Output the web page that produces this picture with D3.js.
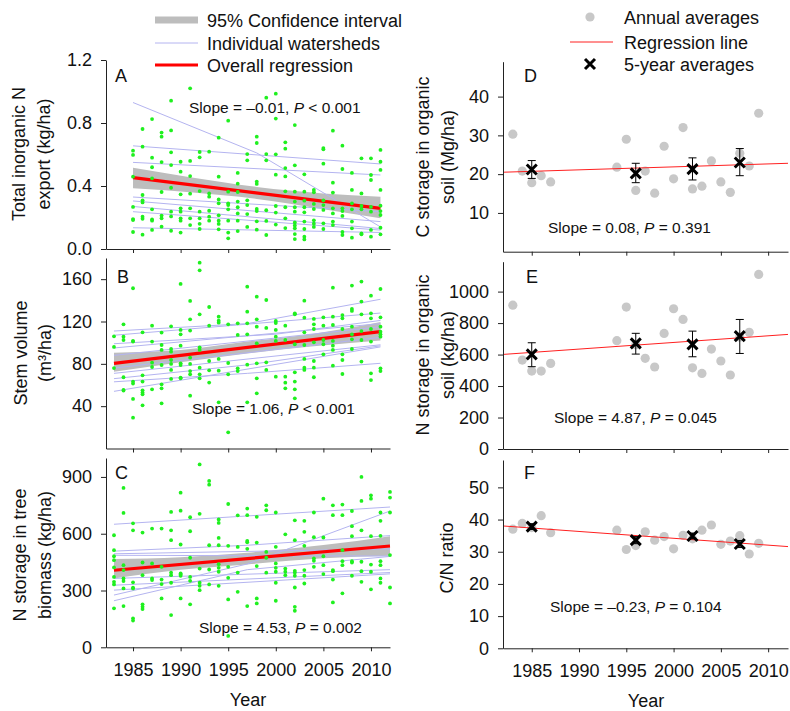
<!DOCTYPE html>
<html lang="en">
<head>
<meta charset="UTF-8">
<title>N export, tree biomass and organic soil trends</title>
<script src="https://d3js.org/d3.v7.min.js"></script>
<style>
  body { margin: 0; background: #fff; }
  svg { font-family: "Liberation Sans", Arial, sans-serif; }
  .axis path, .axis line { stroke: #222; }
  .axis text { font-size: 18px; fill: #111; font-family: "Liberation Sans", Arial, sans-serif; }
</style>
</head>
<body>
<svg id="chart" width="790" height="711"></svg>
<script>
// ---- left column: watershed-level data (green dots), per year ----
const ptsA = [
  [1985, [0.624, 0.597, 0.459, 0.267, 0.190, 0.184, 0.108]],
  [1986, [0.762, 0.650, 0.343, 0.309, 0.296, 0.205, 0.192, 0.091]],
  [1987, [0.825, 0.580, 0.519, 0.449, 0.252, 0.188, 0.180, 0.121]],
  [1988, [0.739, 0.713, 0.552, 0.362, 0.212, 0.195, 0.142]],
  [1989, [0.942, 0.753, 0.614, 0.533, 0.389, 0.237, 0.207, 0.116]],
  [1990, [0.554, 0.491, 0.347, 0.258, 0.237, 0.195, 0.180, 0.104]],
  [1991, [1.020, 0.559, 0.463, 0.351, 0.258, 0.195, 0.152]],
  [1992, [0.616, 0.582, 0.368, 0.237, 0.195, 0.160, 0.127]],
  [1993, [0.618, 0.353, 0.332, 0.243, 0.205, 0.180]],
  [1994, [0.707, 0.459, 0.315, 0.290, 0.214, 0.180, 0.159, 0.125]],
  [1995, [0.815, 0.364, 0.290, 0.279, 0.252, 0.180, 0.104, 0.068]],
  [1996, [0.483, 0.415, 0.362, 0.301, 0.265, 0.226, 0.180, 0.114]],
  [1997, [0.603, 0.563, 0.309, 0.279, 0.222, 0.140]],
  [1998, [0.713, 0.673, 0.428, 0.413, 0.254, 0.241, 0.176, 0.123]],
  [1999, [0.961, 0.603, 0.563, 0.246, 0.178, 0.089]],
  [2000, [0.986, 0.828, 0.601, 0.472, 0.273, 0.231, 0.155]],
  [2001, [0.677, 0.637, 0.514, 0.461, 0.366, 0.265, 0.195, 0.133]],
  [2002, [0.787, 0.531, 0.364, 0.301, 0.265, 0.237, 0.169, 0.150, 0.131, 0.095, 0.063]],
  [2003, [0.474, 0.364, 0.307, 0.265, 0.233, 0.174, 0.127, 0.078, 0.061]],
  [2004, [0.375, 0.360, 0.286, 0.254, 0.182, 0.161, 0.140]],
  [2005, [0.641, 0.633, 0.542, 0.309, 0.279, 0.248, 0.163, 0.127]],
  [2006, [0.751, 0.421, 0.358, 0.258, 0.226, 0.174, 0.152]],
  [2007, [0.656, 0.508, 0.258, 0.241, 0.210, 0.108, 0.089]],
  [2008, [0.483, 0.375, 0.290, 0.252, 0.174, 0.131, 0.072]],
  [2009, [0.576, 0.353, 0.273, 0.252, 0.099, 0.093]],
  [2010, [0.576, 0.470, 0.438, 0.267, 0.237, 0.121, 0.078]],
  [2011, [0.629, 0.554, 0.502, 0.375, 0.275, 0.241, 0.216, 0.135, 0.093]]
];
const shedsA = [
  [[1985, 0.93], [1998, 0.61], [2011, 0.14]],
  [[1985, 0.655], [2011, 0.54]],
  [[1985, 0.55], [2011, 0.47]],
  [[1985, 0.33], [2011, 0.237]],
  [[1985, 0.305], [2011, 0.174]],
  [[1985, 0.27], [2011, 0.13]],
  [[1985, 0.237], [2011, 0.12]],
  [[1985, 0.135], [2011, 0.105]]
];
const fitA = [[1985, 0.453], [2011, 0.258]];
const bandA = [[1985, 0.385, 0.516], [1991, 0.360, 0.456], [1998, 0.318, 0.394], [2005, 0.253, 0.353], [2011, 0.195, 0.332]];

const ptsB = [
  [1983, [106, 96, 76]],
  [1984, [117.3, 105.7, 102.5, 67.3, 55.3, 54.7]],
  [1985, [151.4, 101.6, 101.0, 63.2, 61.3, 46.8, 29.1]],
  [1986, [109.8, 69.1, 63.2, 55.0, 52.8, 51.2, 40.8]],
  [1987, [116.1, 101.0, 81.1, 77.0, 55.9]],
  [1988, [109.5, 97.8, 93.1, 78.9, 60.6, 56.9, 42.7]],
  [1989, [115.4, 94.0, 91.5, 83.6, 79.9, 74.2, 65.7]],
  [1990, [155.5, 112.0, 107.9, 97.2, 80.5, 78.9, 67.0, 66.3]],
  [1991, [139.4, 122.1, 111.4, 85.8, 79.9, 73.2, 70.1, 49.9]],
  [1992, [175.6, 168.4, 126.8, 95.6, 93.1, 76.4, 70.1, 66.3]],
  [1993, [133.7, 116.1, 82.7, 73.9, 62.3]],
  [1994, [124.6, 120.8, 118.9, 84.6, 73.5, 43.6]],
  [1995, [117.3, 80.8, 70.1, 15.3]],
  [1996, [118.3, 107.3, 75.8, 73.2]],
  [1997, [152.9, 129.3, 118.3, 107.9, 79.2, 43.6]],
  [1998, [143.5, 122.1, 115.1, 99.4, 80.5, 66.3, 52.1]],
  [1999, [140.3, 113.9, 81.4, 74.2]],
  [2000, [120.5, 118.6, 112.0, 105.7, 101.6, 67.9]],
  [2001, [116.1, 102.5, 67.9, 62.2, 56.9]],
  [2002, [127.7, 126.8, 98.5, 72.0, 63.2, 55.9, 47.4]],
  [2003, [139.7, 123.6, 109.8, 97.8, 84.6, 76.4, 74.2]],
  [2004, [122.4, 117.3, 112.9, 100.3, 82.7, 76.4, 67.3]],
  [2005, [123.9, 116.1, 102.5, 98.5, 89.0]],
  [2006, [152.0, 124.6, 116.7, 101.6, 97.2, 93.1, 78.3]],
  [2007, [126.1, 123.0, 112.9, 89.0, 83.6, 70.4]],
  [2008, [153.9, 131.9, 130.0, 115.1, 107.9, 103.2, 94.0]],
  [2009, [157.7, 138.8, 126.8, 111.0, 102.5, 82.1]],
  [2010, [144.4, 127.7, 123.0, 112.9, 101.0, 71.0, 64.7]],
  [2011, [150.7, 123.9, 115.1, 110.4, 107.9, 105.7, 75.8, 73.2]]
];
const shedsB = [
  [[1983, 111], [1997, 118], [2011, 141]],
  [[1983, 107], [2011, 128]],
  [[1983, 99], [2000, 108], [2011, 121]],
  [[1983, 95], [2011, 118]],
  [[1983, 88], [2011, 115]],
  [[1983, 76], [2011, 105]],
  [[1983, 71], [2011, 98]],
  [[1983, 66], [1997, 79], [2011, 97]],
  [[1983, 63], [1997, 71], [2011, 80.5]],
  [[1983, 54], [2011, 96]]
];
const fitB = [[1983, 80.5], [2011, 110.4]];
const bandB = [[1983, 72.6, 90.5], [1990, 81.5, 93.0], [1997, 89.8, 101.0], [2004, 96.5, 108.5], [2011, 102.0, 119.5]];

const ptsC = [
  [1983, [592, 513, 481, 460, 422, 372, 346, 332, 206]],
  [1984, [842, 710, 434, 408, 364, 350, 311, 218]],
  [1985, [655, 618, 343, 315, 311, 153, 141]],
  [1986, [606, 448, 381, 227, 214, 202]],
  [1987, [627, 443, 364, 355]],
  [1988, [627, 425, 358, 334, 258]],
  [1989, [715, 618, 566, 395, 381, 341, 170]],
  [1990, [817, 722, 543, 390, 385, 378, 258]],
  [1991, [687, 613, 473, 372, 351, 227]],
  [1992, [966, 705, 416, 341, 325, 302]],
  [1993, [879, 859, 539, 411, 332]],
  [1994, [675, 657, 578, 539, 439, 420, 399, 325]],
  [1995, [757, 536, 425, 367, 253, 60]],
  [1996, [697, 530, 395, 293]],
  [1997, [733, 698, 562, 555, 520, 218]],
  [1998, [689, 553, 429, 258, 232]],
  [1999, [750, 724, 504, 473, 394]],
  [2000, [712, 531, 443, 420, 399, 341, 246]],
  [2001, [597, 416, 399, 381]],
  [2002, [671, 566, 404, 395, 378, 316, 214, 193]],
  [2003, [668, 610, 536, 408, 378, 337]],
  [2004, [712, 582, 469, 457, 425]],
  [2005, [785, 580, 481, 434, 387]],
  [2006, [750, 698, 408, 402, 358, 237]],
  [2007, [754, 698, 513, 455, 434, 285]],
  [2008, [720, 640, 587, 455, 448, 378]],
  [2009, [900, 773, 618, 452, 402, 346]],
  [2010, [803, 785, 587, 437, 399, 306]],
  [2011, [712, 668, 589, 455, 434, 364, 341]],
  [2012, [821, 791, 712, 487, 316, 232]]
];
const shedsC = [
  [[1983, 650], [2012, 741]],
  [[1983, 508], [1997, 539], [2012, 590]],
  [[1983, 494], [2012, 520]],
  [[1983, 486], [2012, 482]],
  [[1983, 364], [2012, 410]],
  [[1983, 328], [2012, 395]],
  [[1983, 302], [2012, 388]],
  [[1983, 276], [1997, 440], [2012, 720]],
  [[1983, 246], [1997, 410], [2012, 480]]
];
const fitC = [[1983, 407], [2012, 535]];
const bandC = [[1983, 364, 466], [1990, 410, 476], [1997, 438, 500], [2005, 470, 540], [2012, 483, 587]];

// ---- right column: organic soil, annual and 5-year averages ----
const soilYears = [1983, 1984, 1985, 1986, 1987, 1994, 1995, 1996, 1997, 1998, 1999,
                   2000, 2001, 2002, 2003, 2004, 2005, 2006, 2007, 2008, 2009];
const cStorage = [30.3, 20.8, 17.8, 19.6, 18.0, 21.8, 29.0, 15.8, 20.8, 15.1, 27.2,
                  18.8, 32.0, 16.2, 16.9, 23.4, 18.0, 15.3, 25.4, 22.1, 35.7];
const nStorage = [914, 565, 495, 495, 544, 688, 902, 663, 576, 521, 734,
                  891, 823, 516, 480, 635, 559, 470, 711, 741, 1109];
const cnRatio = [37.0, 38.8, 37.5, 41.2, 35.9, 36.7, 30.7, 31.9, 36.2, 33.6, 34.7,
                 30.9, 35.1, 34.0, 36.7, 38.3, 32.3, 33.3, 35.0, 29.3, 32.6];

const fiveYears = [1985, 1996, 2002, 2007];
const cFive = [21.2, 20.2, 21.3, 23.0];
const cFiveLo = [18.9, 17.8, 18.5, 19.6];
const cFiveHi = [23.5, 22.8, 24.2, 26.6];
const nFive = [601, 671, 665, 717];
const nFiveLo = [523, 603, 586, 607];
const nFiveHi = [675, 735, 749, 823];
const cnFive = [37.8, 33.6, 34.9, 32.4];
const cnFiveLo = [36.9, 32.5, 34.0, 31.3];
const cnFiveHi = [38.7, 34.7, 35.8, 33.5];

const fitD = [[1982, 20.5], [2012.1, 22.8]];
const fitE = [[1982, 601], [2012.1, 728]];
const fitF = [[1982, 38.0], [2012.1, 31.6]];

const yearTicks = [1985, 1990, 1995, 2000, 2005, 2010];

const svg = d3.select("#chart");
const FONT = "Liberation Sans, Arial, sans-serif";

function addText(x, y, parts, size, anchor) {
  const t = svg.append("text")
    .attr("x", x).attr("y", y)
    .attr("font-size", size)
    .attr("font-family", FONT)
    .attr("fill", "#111")
    .attr("text-anchor", anchor || "start");
  parts.forEach((p, i) => {
    t.append("tspan").text(p).attr("font-style", i === 1 ? "italic" : "normal");
  });
  return t;
}

function yLabel(x, cy, lines) {
  lines.forEach(([lx, txt]) => {
    svg.append("text")
      .attr("transform", `translate(${lx},${cy}) rotate(-90)`)
      .attr("text-anchor", "middle")
      .attr("font-size", 18)
      .attr("font-family", FONT)
      .attr("fill", "#111")
      .text(txt);
  });
}

function drawLeft(p) {
  const x = d3.scaleLinear().domain([1982.16, 2012]).range([106, 390]);
  const y = d3.scaleLinear().domain(p.domain).range([p.bottom, p.top]);
  const g = svg.append("g");

  g.append("path").datum(p.band)
    .attr("d", d3.area().x(d => x(d[0])).y0(d => y(d[1])).y1(d => y(d[2])).curve(d3.curveMonotoneX))
    .attr("fill", "#bdbdbd");

  g.selectAll("path.shed").data(p.sheds).join("path")
    .attr("class", "shed")
    .attr("d", d3.line().x(d => x(d[0])).y(d => y(d[1])))
    .attr("fill", "none")
    .attr("stroke", "#b4b4f0")
    .attr("stroke-width", 1);

  g.append("path").datum(p.fit)
    .attr("d", d3.line().x(d => x(d[0])).y(d => y(d[1])))
    .attr("stroke", "#ff0000")
    .attr("stroke-width", 3.2);

  const flat = p.pts.flatMap(([yr, vals]) => vals.map(v => [yr, v]));
  g.selectAll("circle.pt").data(flat).join("circle")
    .attr("class", "pt")
    .attr("cx", d => x(d[0]))
    .attr("cy", d => y(d[1]))
    .attr("r", 1.9)
    .attr("fill", "#1ff01f");

  g.append("g").attr("class", "axis")
    .attr("transform", `translate(0,${p.bottom})`)
    .call(d3.axisBottom(x).tickValues(yearTicks).tickSize(4).tickSizeOuter(0).tickPadding(12)
      .tickFormat(p.showX ? d3.format("d") : () => ""));

  g.append("g").attr("class", "axis")
    .attr("transform", "translate(106,0)")
    .call(d3.axisLeft(y).tickValues(p.ticks).tickSize(5).tickSizeOuter(0).tickPadding(9)
      .tickFormat(p.fmt));

  addText(p.letterPos[0], p.letterPos[1], [p.letter], 18);
  addText(p.slopePos[0], p.slopePos[1], p.slope, 15.5);
  yLabel(0, p.labelY, p.label);
}

function drawRight(p) {
  const x = d3.scaleLinear().domain([1981.96, 2012.1]).range([503, 788]);
  const y = d3.scaleLinear().domain(p.domain).range([p.bottom, p.top]);
  const g = svg.append("g");

  g.selectAll("circle.avg").data(soilYears).join("circle")
    .attr("class", "avg")
    .attr("cx", d => x(d))
    .attr("cy", (d, i) => y(p.vals[i]))
    .attr("r", 4.6)
    .attr("fill", "#c8c8c8");

  g.append("path").datum(p.fit)
    .attr("d", d3.line().x(d => x(d[0])).y(d => y(d[1])))
    .attr("stroke", "#ff2020")
    .attr("stroke-width", 1);

  fiveYears.forEach((yr, i) => {
    const cx = x(yr);
    g.append("line").attr("x1", cx).attr("x2", cx)
      .attr("y1", y(p.lo[i])).attr("y2", y(p.hi[i]))
      .attr("stroke", "#000").attr("stroke-width", 1);
    [p.lo[i], p.hi[i]].forEach(v => {
      g.append("line").attr("x1", cx - 4).attr("x2", cx + 4)
        .attr("y1", y(v)).attr("y2", y(v))
        .attr("stroke", "#000").attr("stroke-width", 1);
    });
    const cy = y(p.five[i]);
    g.append("path")
      .attr("d", `M${cx - 5},${cy - 5}L${cx + 5},${cy + 5}M${cx - 5},${cy + 5}L${cx + 5},${cy - 5}`)
      .attr("stroke", "#000").attr("stroke-width", 3);
  });

  g.append("g").attr("class", "axis")
    .attr("transform", `translate(0,${p.bottom})`)
    .call(d3.axisBottom(x).tickValues(yearTicks).tickSize(4).tickSizeOuter(0).tickPadding(12)
      .tickFormat(p.showX ? d3.format("d") : () => ""));

  g.append("g").attr("class", "axis")
    .attr("transform", "translate(503,0)")
    .call(d3.axisLeft(y).tickValues(p.ticks).tickSize(5).tickSizeOuter(0).tickPadding(9)
      .tickFormat(d3.format("d")));

  addText(p.letterPos[0], p.letterPos[1], [p.letter], 18);
  addText(p.slopePos[0], p.slopePos[1], p.slope, 15.5);
  yLabel(0, p.labelY, p.label);
}

drawLeft({
  top: 60, bottom: 249, domain: [0, 1.2], ticks: [0, 0.4, 0.8, 1.2], fmt: d3.format(".1f"),
  pts: ptsA, sheds: shedsA, fit: fitA, band: bandA, showX: false,
  letter: "A", letterPos: [115, 82],
  slope: ["Slope = \u20130.01, ", "P", " < 0.001"], slopePos: [189, 113],
  labelY: 154, label: [[25, "Total inorganic N"], [50, "export (kg/ha)"]]
});
drawLeft({
  top: 258, bottom: 448.5, domain: [0, 180], ticks: [40, 80, 120, 160], fmt: d3.format("d"),
  pts: ptsB, sheds: shedsB, fit: fitB, band: bandB, showX: false,
  letter: "B", letterPos: [117, 283],
  slope: ["Slope = 1.06, ", "P", " < 0.001"], slopePos: [192, 414],
  labelY: 353, label: [[27, "Stem volume"], [51, "(m\u00b3/ha)"]]
});
drawLeft({
  top: 458, bottom: 647.3, domain: [0, 1000], ticks: [0, 300, 600, 900], fmt: d3.format("d"),
  pts: ptsC, sheds: shedsC, fit: fitC, band: bandC, showX: true,
  letter: "C", letterPos: [115, 479],
  slope: ["Slope = 4.53, ", "P", " = 0.002"], slopePos: [199, 633],
  labelY: 555, label: [[26, "N storage in tree"], [51, "biomass (kg/ha)"]]
});

drawRight({
  top: 61.7, bottom: 251.7, domain: [0, 49], ticks: [10, 20, 30, 40],
  vals: cStorage, five: cFive, lo: cFiveLo, hi: cFiveHi, fit: fitD, showX: false,
  letter: "D", letterPos: [524, 82],
  slope: ["Slope = 0.08, ", "P", " = 0.391"], slopePos: [548, 233],
  labelY: 157, label: [[429, "C storage in organic"], [454, "soil (Mg/ha)"]]
});
drawRight({
  top: 261.7, bottom: 449, domain: [0, 1190], ticks: [0, 200, 400, 600, 800, 1000],
  vals: nStorage, five: nFive, lo: nFiveLo, hi: nFiveHi, fit: fitE, showX: false,
  letter: "E", letterPos: [526, 283],
  slope: ["Slope = 4.87, ", "P", " = 0.045"], slopePos: [554, 423],
  labelY: 355, label: [[429, "N storage in organic"], [454, "soil (kg/ha)"]]
});
drawRight({
  top: 460, bottom: 648.3, domain: [0, 58.5], ticks: [0, 10, 20, 30, 40, 50],
  vals: cnRatio, five: cnFive, lo: cnFiveLo, hi: cnFiveHi, fit: fitF, showX: true,
  letter: "F", letterPos: [524, 479],
  slope: ["Slope = \u20130.23, ", "P", " = 0.104"], slopePos: [550, 612],
  labelY: 558, label: [[453, "C/N ratio"]]
});

// x titles
addText(248, 706, ["Year"], 18, "middle");
addText(646, 707, ["Year"], 18, "middle");

// legend, left column
svg.append("line").attr("x1", 155).attr("x2", 198).attr("y1", 20).attr("y2", 20)
  .attr("stroke", "#bdbdbd").attr("stroke-width", 7);
svg.append("line").attr("x1", 155).attr("x2", 198).attr("y1", 43).attr("y2", 43)
  .attr("stroke", "#b4b4f0").attr("stroke-width", 1);
svg.append("line").attr("x1", 155).attr("x2", 198).attr("y1", 65).attr("y2", 65)
  .attr("stroke", "#ff0000").attr("stroke-width", 3.2);
addText(207, 27, ["95% Confidence interval"], 18);
addText(207, 49.5, ["Individual watersheds"], 18);
addText(207, 72, ["Overall regression"], 18);

// legend, right column
svg.append("circle").attr("cx", 590).attr("cy", 17).attr("r", 4.6).attr("fill", "#c8c8c8");
svg.append("line").attr("x1", 570).attr("x2", 613).attr("y1", 42).attr("y2", 42)
  .attr("stroke", "#ff2020").attr("stroke-width", 1);
svg.append("path").attr("d", "M585,59L595,69M585,69L595,59")
  .attr("stroke", "#000").attr("stroke-width", 3);
addText(624, 24, ["Annual averages"], 18);
addText(624, 48.5, ["Regression line"], 18);
addText(624, 71, ["5-year averages"], 18);
</script>
</body>
</html>
